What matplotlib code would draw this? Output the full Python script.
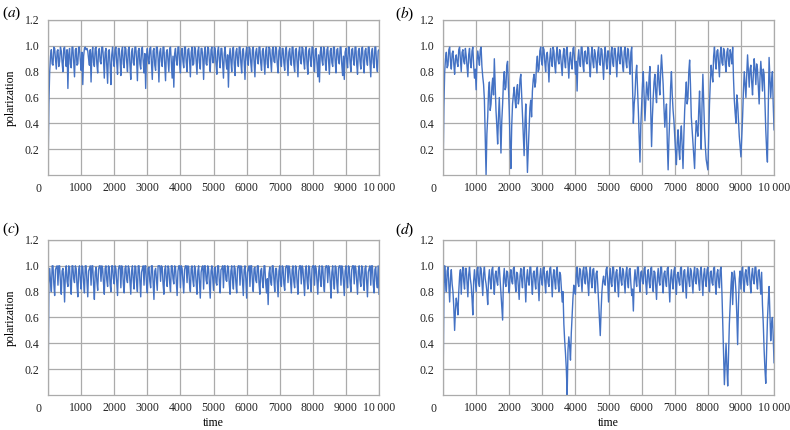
import numpy as np
import matplotlib
matplotlib.use('Agg')
import matplotlib.pyplot as plt

plt.rcParams['font.family'] = ['Liberation Serif', 'DejaVu Serif']
plt.rcParams['mathtext.fontset'] = 'stix'

# polarization, one value every 25 time steps (0 .. 10000)
pol_a = [
    0.03, 0.55, 0.80, 0.92, 0.97, 0.86, 0.85, 0.99, 0.98, 0.90, 0.82, 0.96, 0.97, 0.84, 0.88, 0.99, 0.96, 0.87, 0.80, 0.98,
    0.99, 0.90, 0.84, 0.97, 0.67, 0.93, 0.98, 0.86, 0.83, 0.99, 0.99, 0.88, 0.76, 0.97, 0.98, 0.85, 0.86, 0.99, 0.99, 0.89,
    0.81, 0.95, 0.70, 0.92, 0.98, 0.99, 0.97, 0.98, 0.96, 0.90, 0.85, 0.97, 0.72, 0.94, 0.99, 0.87, 0.84, 0.98, 0.99, 0.86,
    0.79, 0.96, 0.98, 0.88, 0.86, 0.99, 0.99, 0.90, 0.75, 0.95, 0.98, 0.84, 0.71, 0.96, 0.97, 0.85, 0.70, 0.93, 0.99, 0.89,
    0.84, 0.97, 0.99, 0.87, 0.78, 0.98, 0.98, 0.89, 0.77, 0.96, 0.99, 0.86, 0.83, 0.99, 0.98, 0.88, 0.80, 0.97, 0.99, 0.85,
    0.74, 0.95, 0.98, 0.87, 0.85, 0.99, 0.99, 0.90, 0.73, 0.96, 0.98, 0.86, 0.82, 0.97, 0.99, 0.88, 0.79, 0.94, 0.67, 0.92,
    0.98, 0.89, 0.86, 0.98, 0.99, 0.87, 0.74, 0.96, 0.98, 0.85, 0.81, 0.99, 0.99, 0.90, 0.72, 0.95, 0.98, 0.88, 0.84, 0.99,
    0.99, 0.86, 0.73, 0.95, 0.97, 0.88, 0.80, 0.98, 0.99, 0.87, 0.75, 0.92, 0.68, 0.94, 0.98, 0.89, 0.85, 0.99, 0.99, 0.86,
    0.79, 0.96, 0.98, 0.88, 0.83, 0.99, 0.99, 0.87, 0.80, 0.97, 0.98, 0.89, 0.76, 0.95, 0.99, 0.85, 0.86, 0.99, 0.98, 0.88,
    0.78, 0.96, 0.99, 0.87, 0.82, 0.98, 0.98, 0.90, 0.74, 0.95, 0.99, 0.86, 0.85, 0.99, 0.98, 0.88, 0.80, 0.97, 0.99, 0.87,
    0.87, 0.99, 0.98, 0.86, 0.78, 0.96, 0.99, 0.89, 0.83, 0.98, 0.98, 0.87, 0.75, 0.94, 0.99, 0.88, 0.82, 0.93, 0.68, 0.91,
    0.98, 0.88, 0.80, 0.97, 0.99, 0.86, 0.77, 0.95, 0.98, 0.89, 0.84, 0.99, 0.99, 0.87, 0.79, 0.96, 0.98, 0.88, 0.74, 0.94,
    0.99, 0.89, 0.85, 0.99, 0.98, 0.87, 0.80, 0.97, 0.99, 0.88, 0.76, 0.95, 0.98, 0.90, 0.86, 0.99, 0.99, 0.87, 0.81, 0.96,
    0.98, 0.88, 0.78, 0.96, 0.99, 0.86, 0.83, 0.99, 0.98, 0.89, 0.80, 0.97, 0.99, 0.88, 0.87, 0.99, 0.98, 0.86, 0.79, 0.96,
    0.99, 0.89, 0.84, 0.98, 0.98, 0.87, 0.81, 0.97, 0.99, 0.88, 0.77, 0.95, 0.98, 0.89, 0.85, 0.99, 0.99, 0.86, 0.80, 0.97,
    0.98, 0.87, 0.76, 0.95, 0.99, 0.89, 0.86, 0.99, 0.98, 0.88, 0.82, 0.97, 0.99, 0.86, 0.78, 0.96, 0.98, 0.89, 0.84, 0.99,
    0.99, 0.88, 0.80, 0.97, 0.98, 0.86, 0.76, 0.93, 0.72, 0.95, 0.99, 0.89, 0.85, 0.99, 0.98, 0.87, 0.81, 0.97, 0.99, 0.88,
    0.78, 0.96, 0.98, 0.87, 0.84, 0.99, 0.99, 0.88, 0.79, 0.97, 0.98, 0.89, 0.86, 0.99, 0.99, 0.85, 0.77, 0.92, 0.74, 0.95,
    0.98, 0.88, 0.83, 0.99, 0.99, 0.87, 0.80, 0.97, 0.98, 0.89, 0.85, 0.99, 0.99, 0.86, 0.78, 0.96, 0.98, 0.88, 0.82, 0.98,
    0.99, 0.87, 0.79, 0.96, 0.98, 0.89, 0.85, 0.99, 0.99, 0.88, 0.76, 0.95, 0.98, 0.87, 0.83, 0.99, 0.99, 0.86, 0.80, 0.96,
    0.97,
]

pol_b = [
    0.02, 0.52, 0.80, 0.90, 0.95, 0.83, 0.85, 0.97, 0.99, 0.88, 0.82, 0.94, 0.96, 0.86, 0.78, 0.90, 0.93, 0.87, 0.84, 0.97,
    0.99, 0.89, 0.80, 0.95, 0.97, 0.88, 0.86, 0.98, 0.92, 0.84, 0.76, 0.93, 0.98, 0.87, 0.83, 0.96, 0.99, 0.85, 0.75, 0.82,
    0.66, 0.88, 0.96, 0.90, 0.85, 0.97, 0.99, 0.84, 0.76, 0.70, 0.58, 0.30, 0.00, 0.32, 0.45, 0.65, 0.72, 0.50, 0.55, 0.68,
    0.75, 0.62, 0.90, 0.70, 0.50, 0.38, 0.24, 0.45, 0.60, 0.40, 0.17, 0.42, 0.55, 0.72, 0.80, 0.66, 0.68, 0.85, 0.88, 0.70,
    0.50, 0.25, 0.05, 0.38, 0.55, 0.62, 0.68, 0.58, 0.52, 0.66, 0.70, 0.55, 0.60, 0.74, 0.78, 0.62, 0.45, 0.30, 0.15, 0.40,
    0.55, 0.30, 0.02, 0.20, 0.35, 0.52, 0.58, 0.45, 0.65, 0.74, 0.78, 0.68, 0.72, 0.86, 0.92, 0.80, 0.82, 0.96, 0.99, 0.88,
    0.85, 0.99, 0.97, 0.87, 0.80, 0.93, 0.95, 0.86, 0.72, 0.90, 0.98, 0.88, 0.84, 0.99, 0.96, 0.85, 0.79, 0.94, 0.99, 0.89,
    0.86, 0.97, 0.93, 0.85, 0.77, 0.92, 0.98, 0.88, 0.83, 0.97, 0.99, 0.87, 0.75, 0.90, 0.95, 0.86, 0.82, 0.98, 0.99, 0.88,
    0.78, 0.88, 0.65, 0.90, 0.97, 0.87, 0.84, 0.99, 0.99, 0.86, 0.80, 0.95, 0.96, 0.88, 0.86, 0.99, 0.98, 0.85, 0.76, 0.92,
    0.99, 0.88, 0.83, 0.97, 0.94, 0.86, 0.79, 0.95, 0.99, 0.87, 0.85, 0.98, 0.97, 0.85, 0.74, 0.93, 0.99, 0.88, 0.82, 0.96,
    0.96, 0.86, 0.78, 0.94, 0.99, 0.87, 0.84, 0.98, 0.98, 0.88, 0.76, 0.93, 0.99, 0.89, 0.86, 0.99, 0.95, 0.85, 0.80, 0.96,
    0.99, 0.88, 0.83, 0.98, 0.97, 0.86, 0.78, 0.95, 0.99, 0.70, 0.40, 0.55, 0.62, 0.78, 0.85, 0.68, 0.50, 0.30, 0.10, 0.38,
    0.55, 0.70, 0.80, 0.62, 0.42, 0.58, 0.72, 0.65, 0.58, 0.76, 0.84, 0.50, 0.22, 0.45, 0.60, 0.72, 0.78, 0.64, 0.56, 0.74,
    0.85, 0.70, 0.62, 0.80, 0.93, 0.82, 0.70, 0.52, 0.37, 0.48, 0.55, 0.25, 0.04, 0.28, 0.45, 0.68, 0.80, 0.62, 0.50, 0.42,
    0.30, 0.18, 0.08, 0.25, 0.35, 0.20, 0.12, 0.30, 0.38, 0.22, 0.05, 0.30, 0.50, 0.62, 0.72, 0.55, 0.60, 0.80, 0.89, 0.70,
    0.45, 0.35, 0.25, 0.15, 0.05, 0.28, 0.42, 0.35, 0.30, 0.50, 0.65, 0.40, 0.20, 0.55, 0.78, 0.55, 0.35, 0.22, 0.12, 0.08,
    0.04, 0.30, 0.55, 0.72, 0.85, 0.78, 0.72, 0.92, 0.99, 0.88, 0.82, 0.96, 0.97, 0.86, 0.76, 0.94, 0.99, 0.87, 0.85, 0.98,
    0.96, 0.86, 0.80, 0.95, 0.98, 0.88, 0.84, 0.97, 0.93, 0.86, 0.99, 0.75, 0.58, 0.48, 0.40, 0.62, 0.55, 0.42, 0.30, 0.22,
    0.14, 0.30, 0.45, 0.65, 0.80, 0.70, 0.60, 0.78, 0.93, 0.80, 0.68, 0.82, 0.85, 0.72, 0.62, 0.78, 0.90, 0.82, 0.70, 0.86,
    0.82, 0.68, 0.55, 0.75, 0.88, 0.78, 0.65, 0.82, 0.78, 0.55, 0.35, 0.20, 0.10, 0.50, 0.91, 0.75, 0.60, 0.72, 0.80, 0.55,
    0.35,
]

pol_c = [
    0.03, 0.85, 0.98, 0.88, 0.80, 1.00, 1.00, 0.86, 0.77, 0.97, 0.99, 1.00, 0.85, 1.00, 1.00, 0.87, 0.78, 0.96, 0.98, 0.89,
    0.72, 0.95, 1.00, 0.88, 0.84, 1.00, 0.99, 0.86, 0.78, 1.00, 1.00, 0.90, 0.87, 1.00, 0.98, 0.85, 0.76, 0.97, 1.00, 0.89,
    0.82, 1.00, 0.99, 0.87, 0.79, 1.00, 1.00, 0.88, 0.76, 0.96, 0.98, 1.00, 0.85, 1.00, 1.00, 0.86, 0.74, 0.95, 0.99, 0.88,
    0.81, 0.97, 1.00, 1.00, 0.88, 1.00, 0.98, 0.87, 0.78, 0.98, 1.00, 0.89, 0.84, 1.00, 0.99, 0.86, 0.80, 1.00, 1.00, 0.90,
    0.86, 1.00, 0.98, 0.88, 0.77, 0.97, 1.00, 1.00, 0.83, 1.00, 0.99, 0.86, 0.79, 0.98, 1.00, 0.90, 0.87, 1.00, 0.98, 0.88,
    0.78, 0.96, 1.00, 0.89, 0.82, 1.00, 0.99, 0.87, 0.80, 1.00, 1.00, 0.88, 0.76, 0.95, 0.98, 1.00, 0.85, 1.00, 1.00, 0.86,
    0.79, 0.98, 0.99, 0.88, 0.83, 1.00, 1.00, 0.87, 0.74, 0.96, 0.98, 0.89, 0.81, 1.00, 1.00, 1.00, 0.88, 1.00, 0.99, 0.86,
    0.78, 0.97, 1.00, 0.89, 0.84, 1.00, 0.98, 0.87, 0.80, 1.00, 1.00, 0.90, 0.86, 1.00, 0.99, 0.88, 0.77, 0.96, 1.00, 1.00,
    0.83, 1.00, 0.98, 0.88, 0.79, 0.97, 1.00, 1.00, 0.87, 1.00, 0.99, 0.86, 0.80, 0.98, 1.00, 0.89, 0.84, 1.00, 0.98, 0.87,
    0.78, 0.96, 1.00, 0.88, 0.75, 0.95, 0.99, 1.00, 0.82, 1.00, 1.00, 0.89, 0.86, 1.00, 0.98, 0.87, 0.75, 0.96, 1.00, 0.90,
    0.81, 0.98, 0.99, 0.87, 0.85, 1.00, 1.00, 0.88, 0.79, 0.97, 0.98, 1.00, 0.83, 1.00, 1.00, 0.89, 0.88, 1.00, 0.99, 0.86,
    0.78, 0.96, 1.00, 0.89, 0.82, 1.00, 0.98, 0.87, 0.79, 0.98, 1.00, 1.00, 0.85, 1.00, 0.99, 0.88, 0.77, 0.97, 1.00, 0.90,
    0.75, 0.95, 0.98, 1.00, 0.84, 1.00, 1.00, 0.88, 0.80, 0.98, 0.99, 0.89, 0.87, 1.00, 1.00, 0.86, 0.78, 0.96, 0.98, 0.88,
    0.83, 1.00, 1.00, 0.87, 0.79, 0.90, 0.70, 0.94, 0.99, 0.88, 0.85, 1.00, 1.00, 0.89, 0.80, 0.98, 0.98, 0.87, 0.76, 0.96,
    1.00, 0.88, 0.84, 1.00, 0.99, 0.86, 0.81, 0.98, 1.00, 1.00, 0.87, 1.00, 0.98, 0.89, 0.79, 0.97, 1.00, 0.88, 0.83, 1.00,
    0.99, 0.87, 0.78, 0.96, 1.00, 1.00, 0.86, 1.00, 0.98, 0.88, 0.77, 0.97, 1.00, 0.89, 0.82, 1.00, 0.99, 0.87, 0.80, 0.98,
    1.00, 1.00, 0.85, 1.00, 0.98, 0.88, 0.78, 0.96, 1.00, 0.89, 0.84, 1.00, 0.99, 0.86, 0.80, 0.98, 1.00, 1.00, 0.87, 1.00,
    0.98, 0.88, 0.75, 0.95, 1.00, 0.89, 0.82, 1.00, 0.99, 0.87, 0.79, 0.98, 1.00, 1.00, 0.85, 1.00, 0.98, 0.88, 0.77, 0.96,
    1.00, 0.89, 0.83, 1.00, 0.99, 0.87, 0.80, 0.97, 1.00, 1.00, 0.86, 1.00, 0.98, 0.88, 0.78, 0.96, 1.00, 0.89, 0.84, 1.00,
    0.99, 0.87, 0.81, 0.98, 1.00, 0.88, 0.76, 0.95, 0.98, 1.00, 0.85, 1.00, 1.00, 0.86, 0.79, 0.97, 0.99, 0.88, 0.83, 1.00,
    0.78,
]

pol_d = [
    0.03, 0.78, 1.00, 0.88, 0.80, 0.96, 0.99, 0.85, 0.72, 0.90, 0.97, 0.86, 0.80, 0.68, 0.50, 0.66, 0.75, 0.70, 0.62, 0.80,
    0.92, 0.97, 0.78, 0.94, 0.99, 0.88, 0.82, 0.98, 0.98, 0.87, 0.76, 0.93, 0.99, 0.90, 0.85, 0.75, 0.62, 0.88, 0.97, 0.89,
    0.80, 0.96, 0.99, 0.87, 0.84, 0.99, 0.98, 0.88, 0.77, 0.94, 0.99, 0.90, 0.86, 0.80, 0.70, 0.90, 0.97, 0.88, 0.82, 0.97,
    0.99, 0.87, 0.78, 0.93, 0.96, 0.88, 0.85, 0.98, 0.99, 0.89, 0.80, 0.70, 0.58, 0.90, 0.98, 0.87, 0.84, 0.96, 0.95, 0.86,
    0.79, 0.92, 0.97, 0.88, 0.86, 0.98, 0.99, 0.87, 0.80, 0.95, 0.94, 0.84, 0.74, 0.92, 0.98, 0.89, 0.83, 0.97, 0.99, 0.86,
    0.72, 0.90, 0.97, 0.88, 0.85, 0.99, 0.99, 0.87, 0.78, 0.94, 0.96, 0.88, 0.82, 0.97, 0.99, 0.86, 0.73, 0.91, 0.98, 0.89,
    0.85, 0.97, 0.99, 0.88, 0.79, 0.94, 0.96, 0.87, 0.84, 0.98, 0.99, 0.89, 0.76, 0.92, 0.97, 0.88, 0.82, 0.96, 0.99, 0.87,
    0.80, 0.95, 0.93, 0.82, 0.72, 0.80, 0.55, 0.42, 0.32, 0.20, 0.00, 0.35, 0.45, 0.38, 0.27, 0.48, 0.62, 0.75, 0.85, 0.80,
    0.78, 0.93, 0.99, 0.87, 0.84, 0.98, 0.97, 0.88, 0.80, 0.96, 0.99, 0.89, 0.86, 0.99, 0.95, 0.86, 0.77, 0.94, 0.99, 0.88,
    0.83, 0.97, 0.98, 0.87, 0.79, 0.94, 0.96, 0.85, 0.72, 0.60, 0.46, 0.65, 0.80, 0.88, 0.92, 0.86, 0.85, 0.97, 0.99, 0.88,
    0.72, 0.90, 0.98, 0.87, 0.84, 0.99, 0.99, 0.88, 0.80, 0.95, 0.97, 0.86, 0.76, 0.93, 0.99, 0.89, 0.85, 0.98, 0.96, 0.87,
    0.79, 0.94, 0.99, 0.88, 0.83, 0.97, 0.98, 0.86, 0.77, 0.82, 0.65, 0.88, 0.97, 0.89, 0.84, 0.99, 0.99, 0.87, 0.80, 0.95,
    0.96, 0.88, 0.86, 0.98, 0.99, 0.87, 0.78, 0.93, 0.97, 0.88, 0.83, 0.98, 0.99, 0.86, 0.80, 0.96, 0.95, 0.85, 0.74, 0.91,
    0.98, 0.88, 0.85, 0.99, 0.99, 0.87, 0.79, 0.94, 0.96, 0.88, 0.84, 0.98, 0.99, 0.85, 0.72, 0.90, 0.97, 0.88, 0.82, 0.96,
    0.99, 0.87, 0.78, 0.93, 0.95, 0.88, 0.85, 0.98, 0.99, 0.86, 0.80, 0.96, 0.97, 0.86, 0.75, 0.92, 0.99, 0.89, 0.84, 0.98,
    0.96, 0.87, 0.79, 0.94, 0.99, 0.88, 0.86, 0.98, 0.97, 0.87, 0.81, 0.96, 0.99, 0.88, 0.77, 0.93, 0.98, 0.89, 0.84, 0.97,
    0.99, 0.88, 0.80, 0.95, 0.96, 0.87, 0.85, 0.98, 0.99, 0.86, 0.78, 0.94, 0.97, 0.88, 0.83, 0.97, 0.99, 0.80, 0.55, 0.30,
    0.08, 0.25, 0.40, 0.22, 0.07, 0.30, 0.55, 0.70, 0.85, 0.95, 0.70, 0.88, 0.96, 0.90, 0.80, 0.62, 0.39, 0.70, 0.90, 0.96,
    0.82, 0.95, 0.99, 0.87, 0.80, 0.94, 0.97, 0.88, 0.85, 0.99, 0.99, 0.87, 0.79, 0.93, 0.98, 0.89, 0.86, 0.99, 0.99, 0.88,
    0.82, 0.96, 0.97, 0.88, 0.78, 0.95, 0.70, 0.55, 0.35, 0.20, 0.09, 0.35, 0.58, 0.72, 0.84, 0.62, 0.42, 0.55, 0.60, 0.45,
    0.25,
]

panels = [('a', pol_a), ('b', pol_b), ('c', pol_c), ('d', pol_d)]
x_ticks = list(range(0, 10001, 1000))
x_labels = [str(t) for t in x_ticks[:-1]] + ['10\u2009000']
y_ticks = [0.2, 0.4, 0.6, 0.8, 1.0, 1.2]

line_color = '#4472C4'
grid_color = '#ababab'

fig = plt.figure(figsize=(7.9, 4.3), dpi=100)

# axes boxes in figure fraction: left, bottom, width, height
boxes = {
    'a': [0.0608, 0.593, 0.419, 0.3605],
    'b': [0.5608, 0.593, 0.419, 0.3605],
    'c': [0.0608, 0.0814, 0.419, 0.3605],
    'd': [0.5608, 0.0814, 0.419, 0.3605],
}

for name, values in panels:
    ax = fig.add_axes(boxes[name])
    time = np.linspace(0, 10000, len(values))
    ax.plot(time, values, color=line_color, linewidth=1.0)
    ax.set_xlim(0, 10000)
    ax.set_ylim(0, 1.2)
    ax.set_xticks(x_ticks)
    ax.set_xticklabels([''] + x_labels[1:])
    ax.set_yticks(y_ticks)
    ax.set_yticklabels(['%.1f' % v for v in y_ticks])
    ax.tick_params(length=0, labelsize=8.5, colors='#222222')
    ax.tick_params(axis='x', pad=5)
    ax.tick_params(axis='y', pad=6)
    ax.grid(True, color=grid_color, linewidth=0.9)
    ax.set_axisbelow(True)
    for sp in ax.spines.values():
        sp.set_color(grid_color)
        sp.set_linewidth(0.9)
    # the lone "0" sits left of the axis corner
    ax.annotate('0', xy=(0, 0), xycoords='axes fraction', xytext=(-5, -10),
                textcoords='offset points', ha='right', va='center',
                fontsize=8.5, color='#222222')
    if name in ('a', 'c'):
        ax.set_ylabel('polarization', fontsize=8.5, labelpad=6)
    if name in ('c', 'd'):
        ax.set_xlabel('time', fontsize=8.5, labelpad=2)

label_pos = {'a': (0.003, 0.968), 'b': (0.500, 0.968), 'c': (0.003, 0.466), 'd': (0.500, 0.466)}
for name, (lx, ly) in label_pos.items():
    fig.text(lx, ly, '(' + r'$\mathit{' + name + '}$' + ')', fontsize=11,
             ha='left', va='center')

fig.savefig('out.png', dpi=100)
